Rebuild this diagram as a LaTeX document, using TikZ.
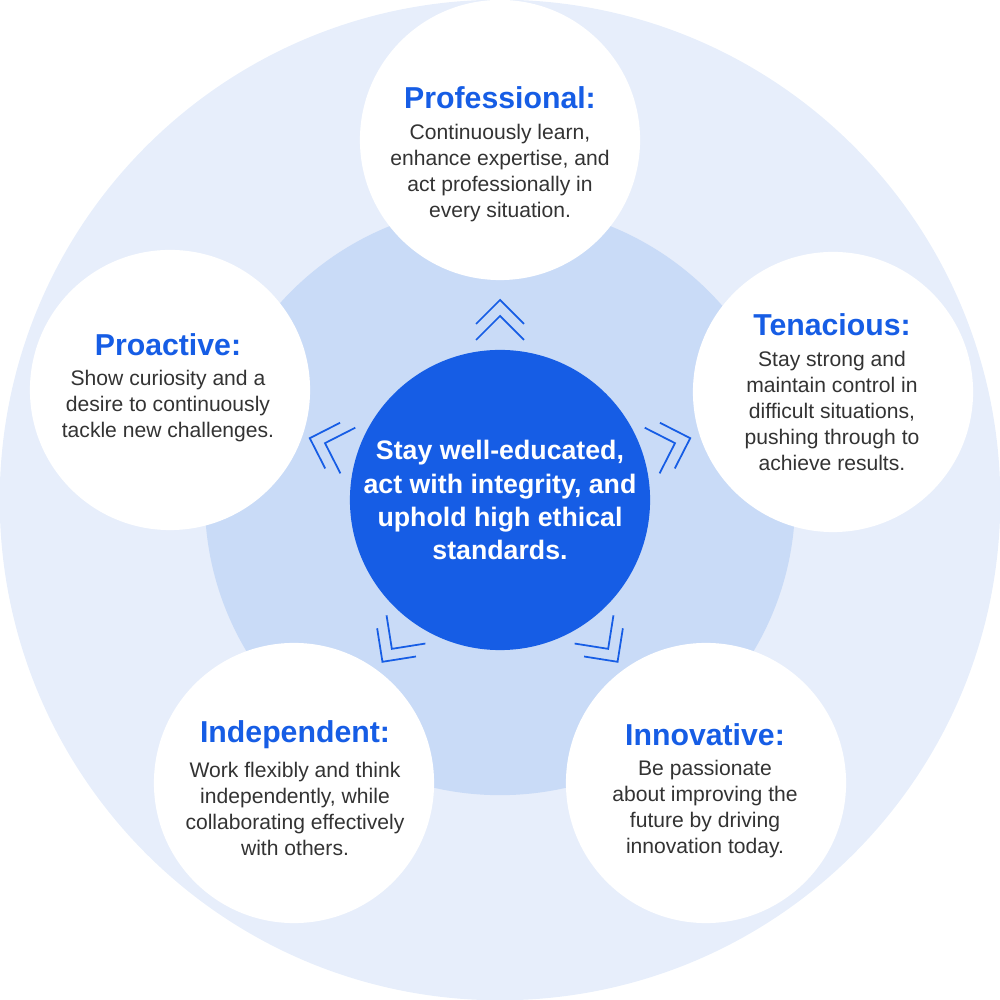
\documentclass[tikz,border=0pt]{standalone}
\usepackage{fontspec}
\setmainfont{Liberation Sans}
\definecolor{outerc}{HTML}{E7EEFB}
\definecolor{midc}{HTML}{C9DBF7}
\definecolor{mainblue}{HTML}{165DE5}
\definecolor{bodyc}{HTML}{333333}
\begin{document}
\begin{tikzpicture}[x=0.01cm,y=0.01cm,
  disc/.style={circle,inner sep=0pt,minimum size=2.8cm,fill=white},
  ttl/.style={font=\fontsize{8.6}{10}\selectfont\bfseries,text=mainblue},
  bdy/.style={font=\fontsize{6}{7.4}\selectfont,text=bodyc,align=center},
  chev/.style={draw=mainblue,line width=0.5pt}]
\useasboundingbox (0,0) rectangle (1000,1000);
\node[circle,inner sep=0pt,minimum size=10cm,fill=outerc] (outer) at (500,500) {};
\node[circle,inner sep=0pt,minimum size=5.9cm,fill=midc] (mid) at (500,500) {};
\node[disc] (prof) at (500,860) {};
\node[disc] (ten) at (833,608) {};
\node[disc] (pro) at (170,610) {};
\node[disc] (ind) at (294,217) {};
\node[disc] (inn) at (706,217) {};
\node[circle,inner sep=0pt,minimum size=3cm,fill=mainblue,
  font=\fontsize{7.6}{9.4}\selectfont\bfseries,text=white,align=center] (core) at (500,500)
  {Stay well-educated,\\act with integrity, and\\uphold high ethical\\standards.};
\foreach \a in {90,18,162,234,306}
  \draw[chev,shift={(500,500)},rotate=\a] (176,24)--(200,0)--(176,-24) (160,24)--(184,0)--(160,-24);
\node[ttl] (profT) at (500,902) {Professional:};
\node[bdy] (profB) at (500,827) {Continuously learn,\\enhance expertise, and\\act professionally in\\every situation.};
\node[ttl] (tenT) at (832,675) {Tenacious:};
\node[bdy] (tenB) at (832,589) {Stay strong and\\maintain control in\\difficult situations,\\pushing through to\\achieve results.};
\node[ttl] (proT) at (168,655) {Proactive:};
\node[bdy] (proB) at (168,594) {Show curiosity and a\\desire to continuously\\tackle new challenges.};
\node[ttl] (indT) at (295,265) {Independent:};
\node[bdy] (indB) at (295,191) {Work flexibly and think\\independently, while\\collaborating effectively\\with others.};
\node[ttl] (innT) at (705,265) {Innovative:};
\node[bdy] (innB) at (705,191) {Be passionate\\about improving the\\future by driving\\innovation today.};
\end{tikzpicture}
\end{document}
